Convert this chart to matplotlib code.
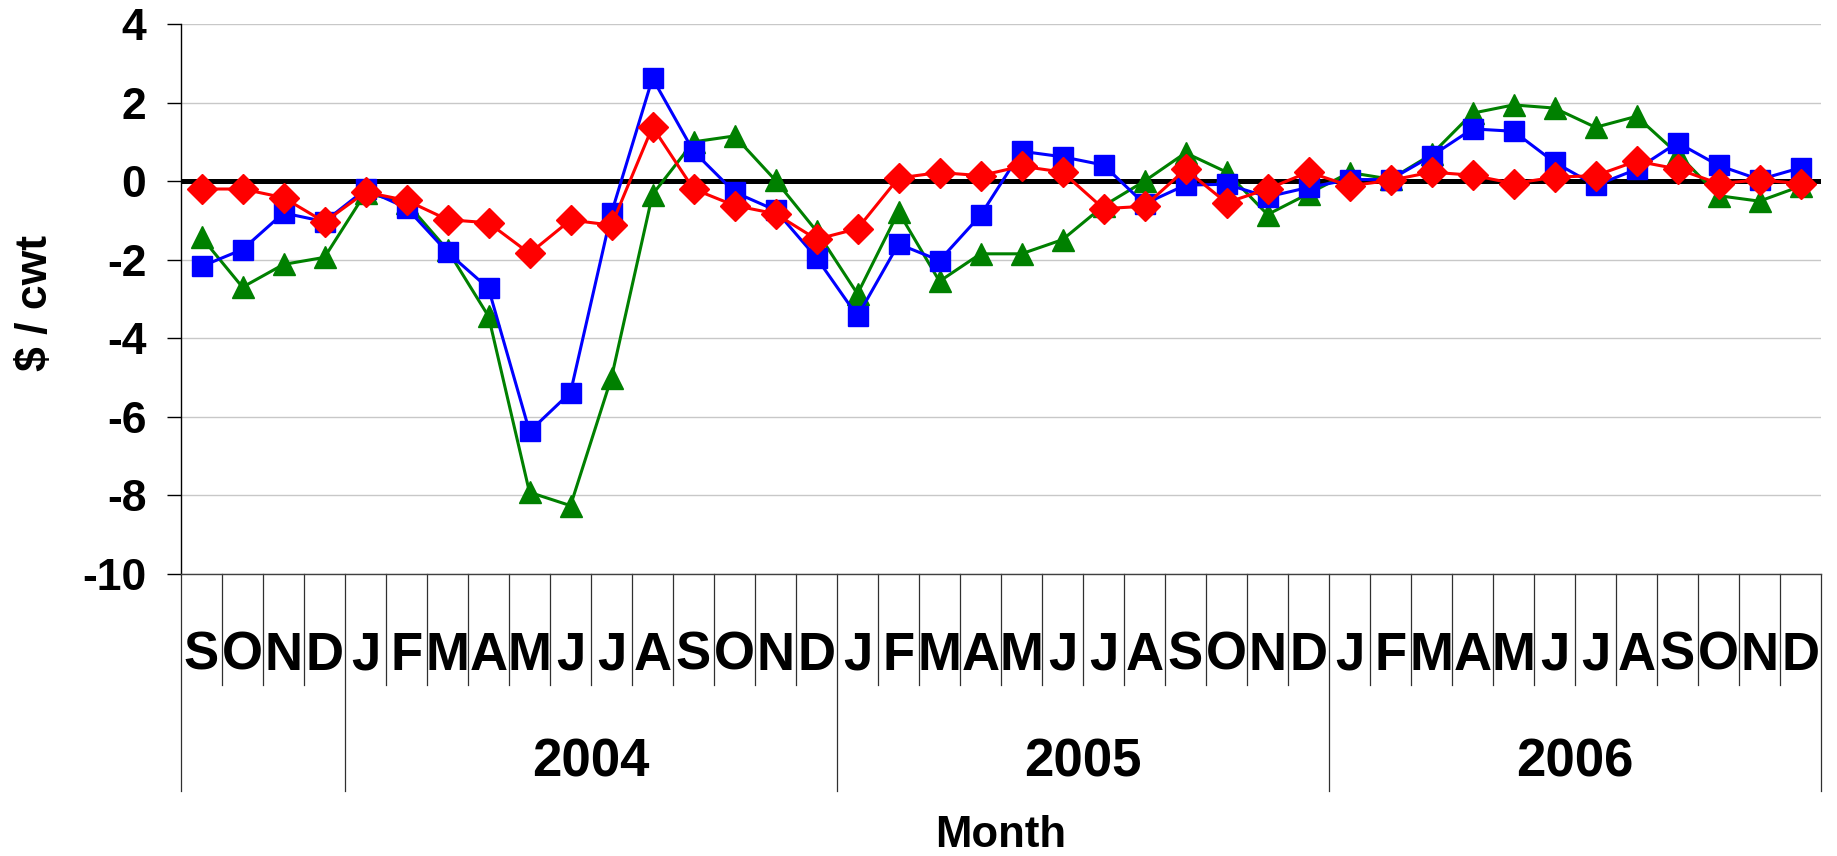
import matplotlib
matplotlib.use('Agg')
import matplotlib.pyplot as plt
import matplotlib.transforms as mtransforms

# Months Sep 2003 .. Dec 2006
months = ['S', 'O', 'N', 'D',
          'J', 'F', 'M', 'A', 'M', 'J', 'J', 'A', 'S', 'O', 'N', 'D',
          'J', 'F', 'M', 'A', 'M', 'J', 'J', 'A', 'S', 'O', 'N', 'D',
          'J', 'F', 'M', 'A', 'M', 'J', 'J', 'A', 'S', 'O', 'N', 'D']
years = ['2004', '2005', '2006']
year_start = [4, 16, 28]  # index of January for each year

blue_sq = [-2.17, -1.74, -0.81, -1.03, -0.21, -0.68, -1.81, -2.73, -6.37, -5.38,
           -0.81, 2.62, 0.76, -0.28, -0.74, -1.95, -3.44, -1.60, -2.02, -0.87,
           0.76, 0.62, 0.41, -0.58, -0.10, -0.08, -0.40, -0.16, 0.04, 0.04,
           0.64, 1.33, 1.27, 0.48, -0.11, 0.30, 0.98, 0.40, 0.04, 0.34]
red_dia = [-0.20, -0.20, -0.42, -1.04, -0.28, -0.49, -0.98, -1.06, -1.84, -0.99,
           -1.12, 1.38, -0.20, -0.62, -0.83, -1.48, -1.21, 0.08, 0.22, 0.14,
           0.38, 0.23, -0.70, -0.64, 0.30, -0.55, -0.20, 0.23, -0.12, 0.02,
           0.23, 0.15, -0.06, 0.10, 0.14, 0.51, 0.31, -0.06, 0.03, -0.06]
green_tri = [-1.43, -2.70, -2.12, -1.94, -0.30, -0.55, -1.75, -3.44, -7.92, -8.26,
             -5.00, -0.34, 1.00, 1.15, 0.02, -1.27, -2.87, -0.78, -2.55, -1.85,
             -1.85, -1.49, -0.63, 0.00, 0.72, 0.23, -0.85, -0.32, 0.22, 0.05,
             0.68, 1.73, 1.94, 1.86, 1.37, 1.65, 0.70, -0.37, -0.51, -0.13]

FONT = 'Liberation Sans'
plt.rcParams['axes.unicode_minus'] = False  # plain hyphen like the original

fig = plt.figure(figsize=(18.37, 8.56), dpi=100)
ax = fig.add_axes([181 / 1837, 1 - 574 / 856, 1640 / 1837, 550 / 856])

x = list(range(len(months)))
ax.plot(x, green_tri, color='#008000', lw=2.2, marker='^', ms=16.5, zorder=3)
ax.plot(x, blue_sq, color='#0000FF', lw=2.2, marker='s', ms=15, zorder=4)
ax.plot(x, red_dia, color='#FF0000', lw=2.2, marker='D', ms=15, zorder=5)
ax.axhline(0, color='black', lw=3.6, zorder=2)

ax.set_xlim(-0.5, len(months) - 0.5)
ax.set_ylim(-10, 4)
ax.set_yticks(range(-10, 5, 2))
ax.yaxis.grid(True, color='#c8c8c8', lw=1)
ax.set_axisbelow(True)
for s in ['top', 'right']:
    ax.spines[s].set_visible(False)
ax.spines['left'].set_linewidth(1)
ax.spines['bottom'].set_linewidth(1)
ax.spines['bottom'].set_color('#404040')
ax.set_xticks([])
ax.tick_params(axis='y', direction='out', length=10, width=1, pad=15, colors='black')
for lab in ax.get_yticklabels():
    lab.set_fontfamily(FONT)
    lab.set_fontweight('bold')
    lab.set_fontsize(32)

# category axis: month letters, years, separators
trans = mtransforms.blended_transform_factory(ax.transData, ax.transAxes)
long_sep = [0] + year_start + [len(months)]
for k in range(len(months) + 1):
    y_end = -0.3945 if k in long_sep else -0.2018
    ax.plot([k - 0.5, k - 0.5], [0, y_end], color='#303030', lw=0.9,
            transform=trans, clip_on=False)
for i, m in enumerate(months):
    ax.text(i, -0.1745, m, transform=trans, ha='center', va='baseline',
            fontsize=38, fontweight='bold', fontfamily=FONT)
for j, yr in enumerate(years):
    mid = year_start[j] + 5.5
    ax.text(mid, -0.3673, yr, transform=trans, ha='center', va='baseline',
            fontsize=38, fontweight='bold', fontfamily=FONT)

fig.text(1001 / 1837, 9 / 856, 'Month', ha='center', va='baseline',
         fontsize=31.5, fontweight='bold', fontfamily=FONT)
fig.text(36 / 1837, 1 - 303 / 856, '$ / cwt', rotation=90, ha='center', va='center',
         fontsize=32, fontweight='bold', fontfamily=FONT)

fig.savefig('out.png', dpi=100)
